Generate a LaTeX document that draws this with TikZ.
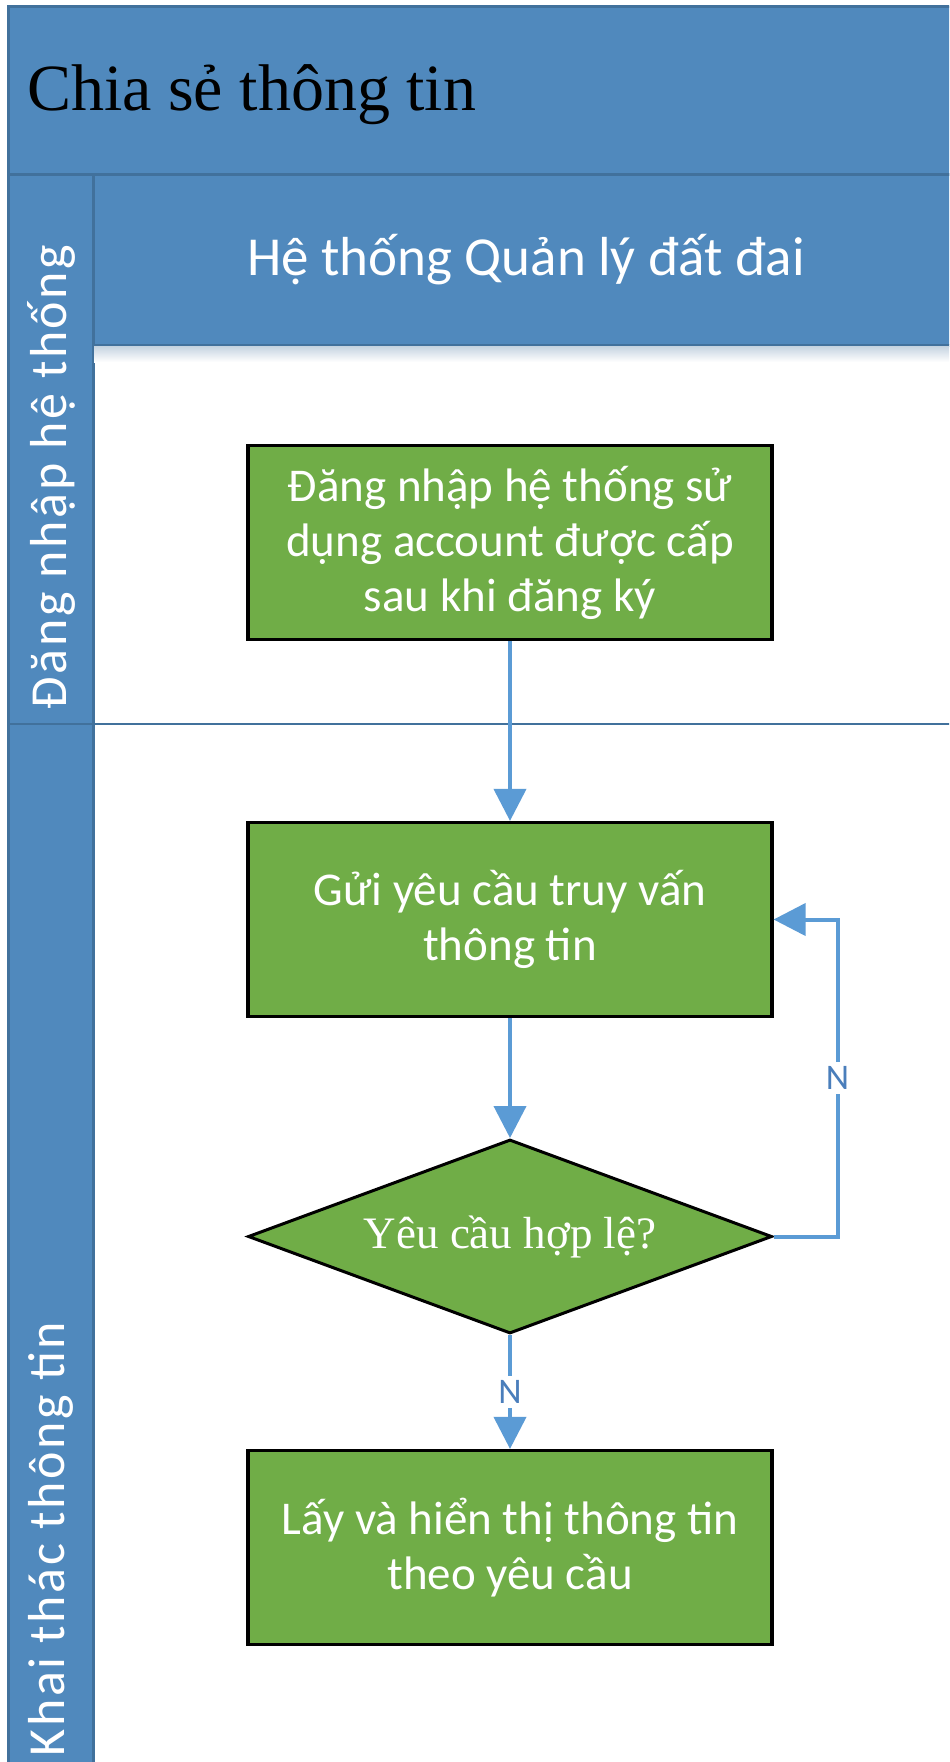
\documentclass[tikz,border=0pt]{standalone}
\usepackage{fontspec}
\setmainfont{Liberation Serif}
\newfontfamily\calibri{Carlito}
\newfontfamily\calibriwide{Carlito}[LetterSpace=5]
\usetikzlibrary{arrows.meta,shapes.geometric}
\definecolor{lanefill}{RGB}{80,137,189}
\definecolor{laneline}{RGB}{65,113,156}
\definecolor{stepgreen}{RGB}{112,173,71}
\definecolor{flowblue}{RGB}{91,155,213}
\definecolor{labelblue}{RGB}{74,126,187}
\begin{document}
\begin{tikzpicture}[x=0.5pt,y=-0.5pt,
    lane/.style={fill=lanefill, draw=laneline, line width=1.5pt},
    lanelabel/.style={rotate=90, text=white, font=\calibriwide\fontsize{26}{30}\selectfont},
    stepbox/.style={draw=black, line width=1.6pt, fill=stepgreen, text=white, align=center,
        minimum width=262pt, minimum height=97pt, inner sep=0pt,
        font=\calibri\fontsize{23.5}{27.5}\selectfont},
    decide/.style={diamond, aspect=2.7, draw=black, line width=1.5pt, fill=stepgreen, text=white,
        minimum width=262pt, minimum height=97pt, inner sep=0pt, font=\fontsize{22.5}{26}\selectfont},
    flow/.style={draw=flowblue, line width=2pt, -{Triangle[length=16pt,width=16pt]}},
    flowlabel/.style={fill=white, text=labelblue, inner sep=2pt, font=\calibri\fontsize{18}{20}\selectfont}]
    \useasboundingbox (0,0) rectangle (949,1762);
    \clip (0,0) rectangle (949,1762);
    \fill[white] (0,0) rectangle (949,1762);
    % swimlanes
    \filldraw[lane] (8,6) rectangle (970,174);
    \filldraw[lane] (8,174) rectangle (93,1780);
    \filldraw[lane] (93,174) rectangle (970,345);
    \shade[top color=laneline!30, bottom color=white] (94,346.5) rectangle (970,362);
    \draw[laneline, line width=1pt] (8,724) -- (970,724);
    \node[anchor=west, font=\fontsize{33}{40}\selectfont] (title) at (20,95) {Chia sẻ thông tin};
    \node[text=white, font=\calibri\fontsize{27.5}{33}\selectfont] (pool) at (526,260) {Hệ thống Quản lý đất đai};
    \node[lanelabel] (lanea) at (51,477) {Đăng nhập hệ thống};
    \node[lanelabel] (laneb) at (51,1539) {Khai thác thông tin};
    % steps
    \node[stepbox] (login) at (510,542.5) {Đăng nhập hệ thống sử\\dụng account được cấp\\sau khi đăng ký};
    \node[stepbox] (ask) at (510,919.5) {Gửi yêu cầu truy vấn\\thông tin};
    \node[decide] (valid) at (510,1236.5) {Yêu cầu hợp lệ?};
    \node[stepbox] (show) at (510,1547.5) {Lấy và hiển thị thông tin\\theo yêu cầu};
    \draw[flow] (login) -- (ask);
    \draw[flow] (ask) -- (valid);
    \draw[flow] (valid.east) -- ++(64,0) |- (ask.east) node[flowlabel, pos=0.25] {N};
    \draw[flow] (valid) -- (show) node[flowlabel, midway] {N};
\end{tikzpicture}
\end{document}
